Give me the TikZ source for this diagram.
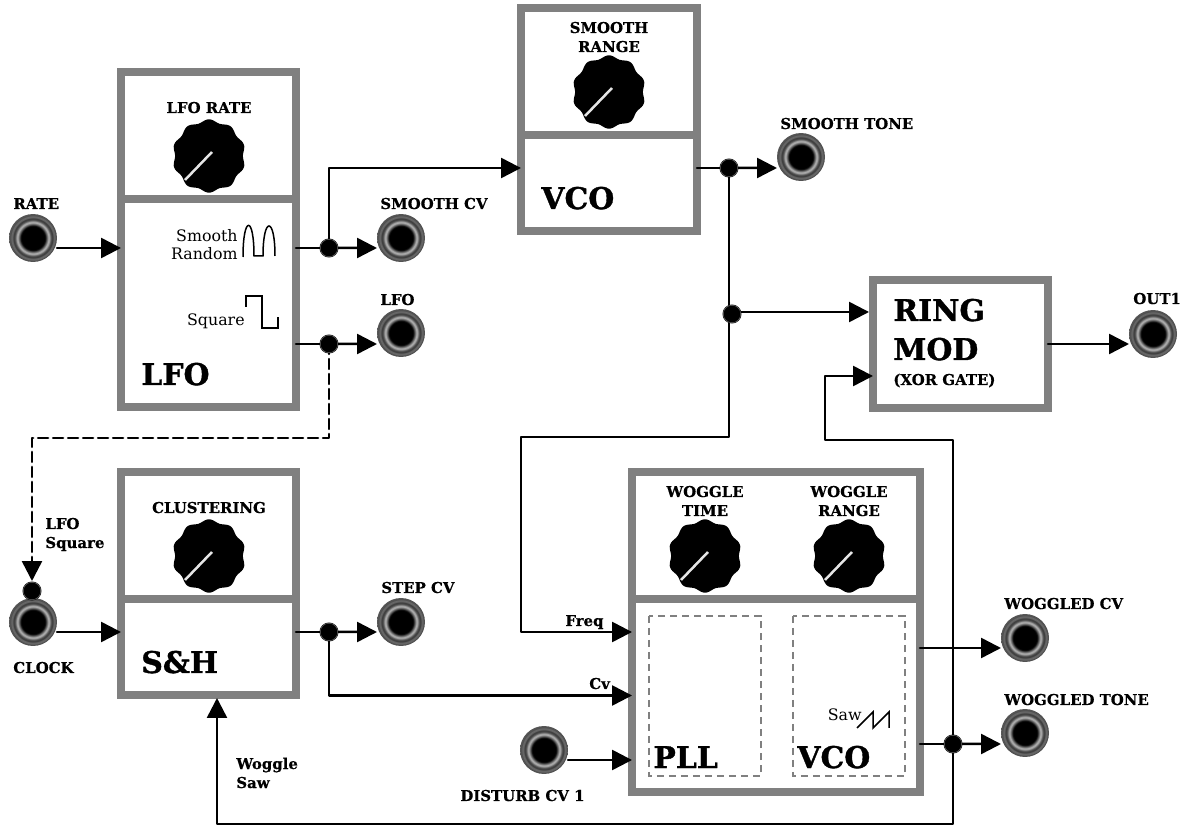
\documentclass[tikz,border=0pt]{standalone}
\usepackage{fontspec}
\setmainfont[BoldFeatures={FakeBold=0.5}]{DejaVu Serif}
\newfontfamily\headfont[BoldFeatures={FakeBold=1.2}]{DejaVu Serif}
\usetikzlibrary{arrows.meta,calc}
\definecolor{boxgray}{HTML}{808080}
\pgfdeclareradialshading{jackshade}{\pgfpoint{0cm}{0cm}}{color(0bp)=(black); color(12.5bp)=(black); color(14.5bp)=(black!60); color(16.5bp)=(black!25); color(18.5bp)=(black!65); color(20bp)=(black!80); color(22bp)=(black!55); color(24bp)=(black!72); color(25bp)=(black!65); color(50bp)=(white)}
\tikzset{
	box/.style={draw=boxgray, line width=0.16cm, line join=miter, inner sep=0pt, outer sep=0pt},
	jack/.style={circle, minimum size=0.96cm, inner sep=0pt, outer sep=0pt, shading=jackshade},
	junction/.style={circle, minimum size=0.35cm, inner sep=0pt, outer sep=0pt, fill=black, draw=black, line width=0.3pt, double=black!55, double distance=0.25pt},
	wire/.style={line width=0.05cm, line cap=round, line join=round},
	feed/.style={wire, -{Triangle[length=0.4cm,width=0.4cm]}},
	inner/.style={draw=boxgray, line width=0.03cm, line join=miter, dash pattern=on 0.15cm off 0.09cm},
	thinwave/.style={line width=0.03cm, line join=miter},
	tag/.style={font=\fontsize{8.5}{10.8}\selectfont\bfseries, inner sep=0pt, anchor=base west},
	knobtag/.style={tag, anchor=base, align=center},
	title/.style={font=\fontsize{17}{22}\selectfont\headfont\bfseries, inner sep=0pt, anchor=base west},
	wavetag/.style={font=\fontsize{9}{10.4}\selectfont, inner sep=0pt, anchor=base east, align=right},
	pics/knob/.style={code={
		\fill[black] plot[smooth, domain=0:360, samples=121] ({\x}:{35.3+1.4*cos(10*(\x-90))}) -- cycle;
		\draw[gray!20, line width=0.05cm] (3,-4) -- (-24,24);
	}}
}
\begin{document}
\begin{tikzpicture}[x=0.02cm, y=-0.02cm, >=stealth, line join=round]
	\useasboundingbox (0,0) rectangle (1188,827);
	% module boxes
	\node[box, minimum width=3.5cm, minimum height=2.54cm] (lfotop) at (208.5,135.5) {};
	\node[box, minimum width=3.5cm, minimum height=4.16cm] (lfobox) at (208.5,303) {};
	\node[box, minimum width=3.52cm, minimum height=2.54cm] (vcotop) at (609,71.5) {};
	\node[box, minimum width=3.52cm, minimum height=1.92cm] (vcobox) at (609,183) {};
	\node[box, minimum width=3.5cm, minimum height=2.54cm] (shtop) at (208.5,535.5) {};
	\node[box, minimum width=3.5cm, minimum height=1.92cm] (shbox) at (208.5,647) {};
	\node[box, minimum width=5.76cm, minimum height=2.54cm] (plltop) at (776,535.5) {};
	\node[box, minimum width=5.76cm, minimum height=3.86cm] (pllbox) at (776,695.5) {};
	\node[box, minimum width=3.5cm, minimum height=2.56cm] (ringbox) at (960.5,344) {};
	\draw[inner] (649,616) rectangle (761,776);
	\draw[inner] (793,616) rectangle (905,776);
	% knobs
	\pic (lforate) at (209,156) {knob};
	\pic (smoothrange) at (609,92) {knob};
	\pic (clustering) at (209,556) {knob};
	\pic (woggletime) at (705,556) {knob};
	\pic (wogglerange) at (849,556) {knob};
	% jacks
	\node[jack] (rate) at (33,238) {};
	\node[jack] (smoothcv) at (401,238) {};
	\node[jack] (lfoout) at (401,333) {};
	\node[jack] (clock) at (33,622) {};
	\node[jack] (stepcv) at (401,622) {};
	\node[jack] (disturb) at (544,750) {};
	\node[jack] (smoothtone) at (801,157) {};
	\node[jack] (outone) at (1153,334) {};
	\node[jack] (wogcv) at (1025,638) {};
	\node[jack] (wogtone) at (1025,733) {};
	% pins sit a little below the centre of each jack
	\coordinate (ratepin) at ([yshift=-0.2cm]rate.east);
	\coordinate (clockpin) at ([yshift=-0.2cm]clock.east);
	\coordinate (disturbpin) at ([yshift=-0.2cm]disturb.east);
	\coordinate (smoothpin) at ([yshift=-0.2cm]smoothcv.west);
	\coordinate (lfopin) at ([yshift=-0.22cm]lfoout.west);
	\coordinate (steppin) at ([yshift=-0.2cm]stepcv.west);
	\coordinate (tonepin) at ([yshift=-0.22cm]smoothtone.west);
	\coordinate (outpin) at ([yshift=-0.2cm]outone.west);
	\coordinate (wogcvpin) at ([yshift=-0.2cm]wogcv.west);
	\coordinate (wogtonepin) at ([yshift=-0.22cm]wogtone.west);
	% wires
	\draw[feed] (ratepin) -- (ratepin -| lfobox.west);
	\draw[feed] (clockpin) -- (clockpin -| shbox.west);
	\draw[feed] (disturbpin) -- (disturbpin -| pllbox.west);
	\coordinate (dotsmooth) at (329,248);
	\coordinate (dotlfo) at (329,344);
	\coordinate (dotstep) at (329,632);
	\coordinate (dotvco) at (729,168);
	\coordinate (dotwog) at (953,744);
	\draw[wire] (lfobox.east |- dotsmooth) -- (dotsmooth);
	\draw[feed] (dotsmooth) -- (smoothpin);
	\draw[feed] (dotsmooth) -- (dotsmooth |- dotvco) -- (dotvco -| vcobox.west);
	\draw[wire] (lfobox.east |- dotlfo) -- (dotlfo);
	\draw[feed] (dotlfo) -- (lfopin);
	\draw[wire] (shbox.east |- dotstep) -- (dotstep);
	\draw[feed] (dotstep) -- (steppin);
	\draw[feed] (dotstep) -- (dotstep |- pllbox.west) -- (pllbox.west);
	\draw[wire] (vcobox.east |- dotvco) -- (dotvco);
	\draw[feed] (dotvco) -- (tonepin);
	\coordinate (freqturn) at (521,437);
	\draw[feed] (dotvco) -- (dotvco |- freqturn) -- (freqturn) -- (freqturn |- dotstep) -- (pllbox.west |- dotstep);
	\coordinate (ringtap) at (729,312);
	\draw[feed, shorten >=0.08cm] (ringtap) -- (ringtap -| ringbox.west);
	\draw[feed] (ringbox.east |- outpin) -- (outpin);
	\draw[feed] (pllbox.east |- wogcvpin) -- (wogcvpin);
	\draw[wire] (pllbox.east |- dotwog) -- (dotwog);
	\draw[feed] (dotwog) -- (wogtonepin);
	\coordinate (sawturn) at (825,440);
	\coordinate (ringlow) at (825,376);
	\draw[feed] (dotwog) -- (dotwog |- sawturn) -- (sawturn) -- (ringlow) -- (ringlow -| ringbox.west);
	\draw[feed] (dotwog) -- (953,824) -- (217,824) -- (217,698);
	\draw[feed, dashed, dash pattern=on 0.2cm off 0.1cm] (dotlfo) -- (329,438) -- (32,438) -- (32,581);
	% junction dots
	\node[junction] (jsmooth) at (dotsmooth) {};
	\node[junction] (jlfo) at (dotlfo) {};
	\node[junction] (jstep) at (dotstep) {};
	\node[junction] (jvco) at (dotvco) {};
	\node[junction] (jring) at (732,314) {};
	\node[junction] (jwog) at (dotwog) {};
	\node[junction] (jclock) at (32,591) {};
	% waveforms
	\draw[thinwave] (243,257) .. controls (243,215) and (254,215) .. (254,256) -- (263,256) .. controls (263,216) and (275,216) .. (275,256);
	\draw[thinwave] (246,307) -- (246,296) -- (262,296) -- (262,328) -- (278,328) -- (278,317);
	\draw[thinwave] (857,728) -- (873,712) -- (873,728) -- (889,712) -- (889,728);
	% texts
	\node[tag] (tagrate) at (13,209) {RATE};
	\node[tag] (tagsmoothcv) at (380,209) {SMOOTH CV};
	\node[tag] (taglfo) at (380,305) {LFO};
	\node[tag] (tagtone) at (780,129) {SMOOTH TONE};
	\node[tag] (tagout) at (1133,304) {OUT1};
	\node[tag] (tagwogcv) at (1004,609) {WOGGLED CV};
	\node[tag] (tagwogtone) at (1004,705) {WOGGLED TONE};
	\node[tag] (tagstep) at (381,593) {STEP CV};
	\node[tag] (tagdisturb) at (460,801) {DISTURB CV 1};
	\node[tag] (tagclock) at (13,673) {CLOCK};
	\node[tag] (taglfosq) at (45,529) {LFO};
	\node[tag] (tagsq) at (45,548) {Square};
	\node[tag] (tagwog) at (236,769) {Woggle};
	\node[tag] (tagsaw) at (236,788) {Saw};
	\node[tag] (tagfreq) at (565,626) {Freq};
	\node[tag] (tagcv) at (589,689) {Cv};
	\node[tag] (tagxor) at (893,385) {(XOR GATE)};
	\node[knobtag] (taglforate) at (209,113) {LFO RATE};
	\node[knobtag] (tagsmoothone) at (609,33) {SMOOTH};
	\node[knobtag] (tagsmoothtwo) at (609,52) {RANGE};
	\node[knobtag] (tagcluster) at (209,513) {CLUSTERING};
	\node[knobtag] (tagtimeone) at (705,497) {WOGGLE};
	\node[knobtag] (tagtimetwo) at (705,516) {TIME};
	\node[knobtag] (tagrangeone) at (849,497) {WOGGLE};
	\node[knobtag] (tagrangetwo) at (849,516) {RANGE};
	\node[title] (titlelfo) at (141,385) {LFO};
	\node[title] (titlesh) at (141,673) {S\&H};
	\node[title] (titlevco) at (541,209) {VCO};
	\node[title] (titlering) at (893,321) {RING};
	\node[title] (titlemod) at (893,360) {MOD};
	\node[title] (titlepll) at (653,768) {PLL};
	\node[title] (titlevcotwo) at (797,768) {VCO};
	\node[wavetag] (wavesmooth) at (238,242) {Smooth};
	\node[wavetag] (waverandom) at (238,260) {Random};
	\node[wavetag] (wavesquare) at (245,326) {Square};
	\node[wavetag] (wavesaw) at (862,721) {Saw};
\end{tikzpicture}
\end{document}
